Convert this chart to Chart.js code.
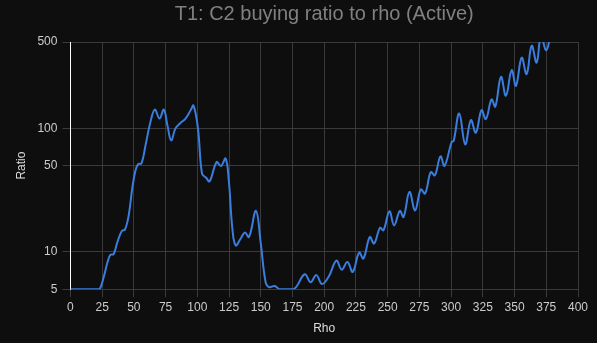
<!DOCTYPE html>
<html lang="en">
<head>
    <meta charset="UTF-8">
    <title>T1: C2 buying ratio to rho (Active)</title>
    <script src="https://cdn.jsdelivr.net/npm/chart.js"></script>
    <style>
        html, body {
            margin: 0;
            padding: 0;
            background-color: #0e0e0e;
        }
        #wrap {
            position: absolute;
            left: 0;
            top: 0;
            width: 597px;
            height: 343px;
        }
    </style>
</head>
<body>
<div id="wrap">
    <canvas id="ratioChart" width="597" height="343"></canvas>
</div>

<script>
    // rho values (x) and C2 buying ratio (y)
    const rho = [
        0, 10, 20, 23, 26.3, 29, 31.5, 34, 37, 40.5, 43,
        46, 48.7, 51.3, 53.5, 56, 59.2, 63, 66.5, 70.2, 73.6,
        76.5, 79.4, 82.8, 86.5, 90.7, 94.7, 97, 100.5, 103.7, 106.8,
        109.7, 115.2, 118.6, 122.3, 124.9, 127.6, 130.2, 134.1, 137.5, 140.7,
        146.2, 149.9, 153.8, 156.5, 161, 165, 176, 184.6, 189.3, 193.8,
        198.3, 203.5, 209.6, 213.8, 218.3, 222.5, 227.5, 230.9, 235.9, 239.3,
        244, 246.7, 251.4, 255.1, 259.6, 262.5, 267.2, 271.6, 276.1, 279.5,
        284, 287.2, 291.6, 294.8, 300.5, 302, 306.4, 311.1, 315.6, 319.5,
        324, 327.4, 331.9, 334.8, 339.3, 343.2, 347.7, 351.1, 355.6, 359.5,
        363.5, 367.4, 370.8, 375, 379
    ];
    const ratio = [
        5, 5, 5, 5, 6.3, 8.1, 9.5, 9.6, 12, 14.8, 15.2,
        20, 32.6, 45.8, 51.5, 52, 73, 112, 142, 120, 142,
        105, 80, 100, 110, 120, 140, 153, 100, 43, 40,
        37.3, 53.4, 49.6, 57, 37, 15.5, 11.3, 12.8, 14.4, 13.2,
        21.5, 12, 5.7, 5.2, 5.3, 5, 5, 6.6, 5.7, 6.5,
        5.5, 6.3, 8.5, 7.2, 8.3, 6.9, 9.9, 8.85, 13.2, 11.7,
        15.7, 15, 21.3, 16.4, 21.5, 19.2, 30.6, 21.7, 32, 29.7,
        44.3, 41.7, 59.4, 49.8, 78, 79, 132, 74.3, 116.7, 92.3,
        140.5, 119, 171.5, 150, 261, 184, 296, 221, 373, 275,
        466, 341, 560, 429, 620
    ];
    const yTickValues = [5, 10, 50, 100, 500];
    const xStep = 25;

    Chart.defaults.font.family = "'Liberation Sans', Arial, sans-serif";

    const points = rho.map((r, i) => ({ x: r, y: ratio[i] }));

    const ctx = document.getElementById('ratioChart').getContext('2d');
    new Chart(ctx, {
        type: 'line',
        data: {
            datasets: [{
                label: 'C2 ratio',
                data: points,
                borderColor: '#3b7ddd',
                backgroundColor: '#3b7ddd',
                borderWidth: 2,
                pointRadius: 0,
                tension: 0.4,
                fill: false
            }]
        },
        options: {
            responsive: false,
            animation: false,
            devicePixelRatio: 1,
            layout: {
                padding: { left: 10, right: 19, top: 0, bottom: 3 }
            },
            plugins: {
                legend: { display: false },
                tooltip: { enabled: false },
                title: {
                    display: true,
                    fullSize: false,
                    text: 'T1: C2 buying ratio to rho (Active)',
                    color: '#808080',
                    font: { size: 20, weight: 'normal' },
                    padding: { top: 2, bottom: 16 }
                }
            },
            scales: {
                x: {
                    type: 'linear',
                    min: 0,
                    max: 400,
                    ticks: {
                        stepSize: xStep,
                        color: '#cccccc',
                        font: { size: 12 },
                        maxRotation: 0
                    },
                    grid: { color: '#3a3a3a' },
                    border: { color: '#3a3a3a' },
                    title: {
                        display: true,
                        text: 'Rho',
                        color: '#dddddd',
                        font: { size: 12 }
                    }
                },
                y: {
                    type: 'logarithmic',
                    min: 5,
                    max: 500,
                    afterBuildTicks: axis => {
                        axis.ticks = yTickValues.map(v => ({ value: v }));
                    },
                    ticks: {
                        color: '#cccccc',
                        font: { size: 12 },
                        padding: 5,
                        callback: v => String(v)
                    },
                    grid: { color: '#3a3a3a' },
                    border: { color: '#ffffff' },
                    title: {
                        display: true,
                        text: 'Ratio',
                        color: '#dddddd',
                        font: { size: 12 }
                    }
                }
            }
        }
    });
</script>
</body>
</html>
